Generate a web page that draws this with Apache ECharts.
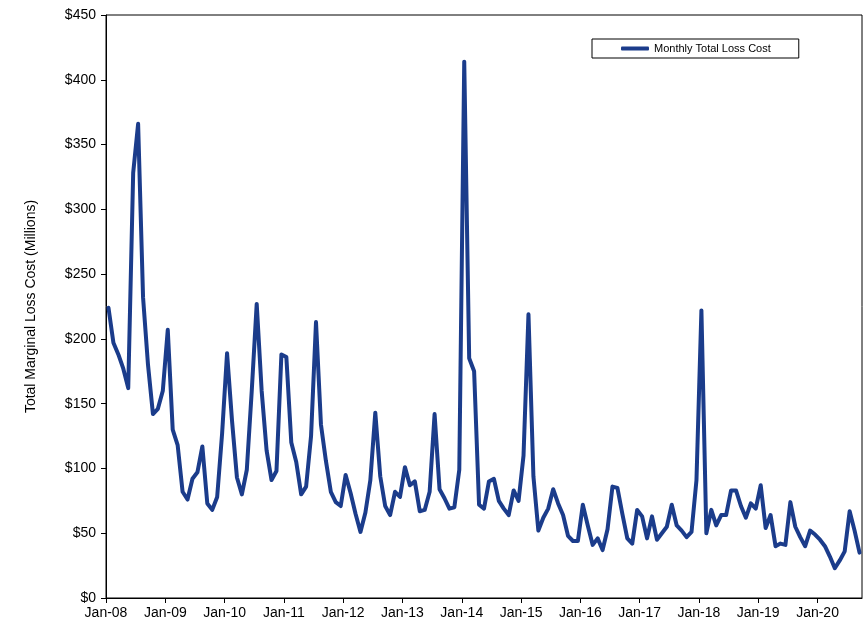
<!DOCTYPE html>
<html>
<head>
<meta charset="utf-8">
<script src="https://cdn.jsdelivr.net/npm/echarts@6/dist/echarts.min.js"></script>
<style>
html,body{margin:0;padding:0;background:#fff;}
#chart{width:863px;height:630px;}
</style>
</head>
<body>
<div id="chart"></div>
<script>
// Tick labels (one per January)
const tickLabels = ['Jan-08','Jan-09','Jan-10','Jan-11','Jan-12','Jan-13','Jan-14','Jan-15','Jan-16','Jan-17','Jan-18','Jan-19','Jan-20'];

// Monthly total loss cost ($ millions), Jan-08 .. Sep-20
const y2008 = [224, 197, 188, 177, 162, 328, 366, 232, 180, 142, 146, 160];
const y2009 = [207, 130, 118, 82, 76, 92, 97, 117, 73, 68, 78, 127];
const y2010 = [189, 137, 93, 80, 99, 160, 227, 160, 114, 91, 98, 188];
const y2011 = [186, 120, 105, 80, 86, 125, 213, 134, 106, 82, 74, 71];
const y2012 = [95, 81, 65, 51, 66, 91, 143, 94, 71, 64, 82, 78];
const y2013 = [101, 87, 90, 67, 68, 82, 142, 84, 77, 69, 70, 99];
const y2014 = [414, 185, 175, 72, 69, 90, 92, 75, 69, 64, 83, 75];
const y2015 = [110, 219, 94, 52, 62, 69, 84, 73, 64, 48, 44, 44];
const y2016 = [72, 56, 41, 46, 37, 53, 86, 85, 65, 46, 42, 68];
const y2017 = [63, 46, 63, 45, 50, 55, 72, 56, 52, 47, 51, 91];
const y2018 = [222, 50, 68, 56, 64, 64, 83, 83, 71, 62, 73, 69];
const y2019 = [87, 54, 64, 40, 42, 41, 74, 55, 47, 40, 52, 49];
const y2020 = [45, 40, 32, 23, 29, 36, 67, 52, 35];

const seriesName = 'Monthly Total Loss Cost';
const yAxisTitle = 'Total Marginal Loss Cost (Millions)';

const monthly = [].concat(y2008, y2009, y2010, y2011, y2012, y2013, y2014, y2015, y2016, y2017, y2018, y2019, y2020);
// x in months since Jan-08; each month plotted at mid-month
const points = monthly.map((v, i) => [i + 0.5, v]);

const FONT = "'Liberation Sans', Arial, sans-serif";
const chart = echarts.init(document.getElementById('chart'));
chart.setOption({
  animation: false,
  backgroundColor: '#fff',
  textStyle: { fontFamily: FONT },
  grid: {
    left: 106, right: 1, top: 15, bottom: 32,
    show: true, borderColor: '#000', borderWidth: 1, backgroundColor: 'transparent'
  },
  legend: {
    data: [seriesName],
    left: 592, top: 39,
    backgroundColor: '#fff',
    borderColor: '#000', borderWidth: 1,
    padding: [4, 28, 4, 29],
    icon: 'roundRect',
    itemWidth: 28, itemHeight: 4,
    itemGap: 5,
    textStyle: { fontFamily: FONT, fontSize: 11, color: '#000' }
  },
  xAxis: {
    type: 'value',
    min: 0, max: 153, interval: 12,
    axisLine: { show: true, lineStyle: { color: '#000', width: 1 } },
    axisTick: { show: true, length: 5, inside: false, lineStyle: { color: '#000' } },
    splitLine: { show: false },
    axisLabel: {
      showMaxLabel: false,
      margin: 8,
      color: '#000', fontSize: 14, fontFamily: FONT,
      formatter: v => (v % 12 === 0 ? (tickLabels[v / 12] || '') : '')
    }
  },
  yAxis: {
    type: 'value',
    min: 0, max: 450, interval: 50,
    name: yAxisTitle,
    nameLocation: 'middle',
    nameGap: 68,
    nameTextStyle: { color: '#000', fontSize: 14, fontFamily: FONT },
    axisLine: { show: true, lineStyle: { color: '#000', width: 1 } },
    axisTick: { show: true, length: 5, inside: false, lineStyle: { color: '#000' } },
    splitLine: { show: false },
    axisLabel: {
      margin: 10,
      color: '#000', fontSize: 14, fontFamily: FONT,
      formatter: v => '$' + v
    }
  },
  series: [{
    name: seriesName,
    type: 'line',
    data: points,
    symbol: 'none',
    color: '#1b3c8b',
    lineStyle: { width: 4, color: '#1b3c8b', join: 'round', cap: 'round' }
  }]
});
</script>
</body>
</html>
